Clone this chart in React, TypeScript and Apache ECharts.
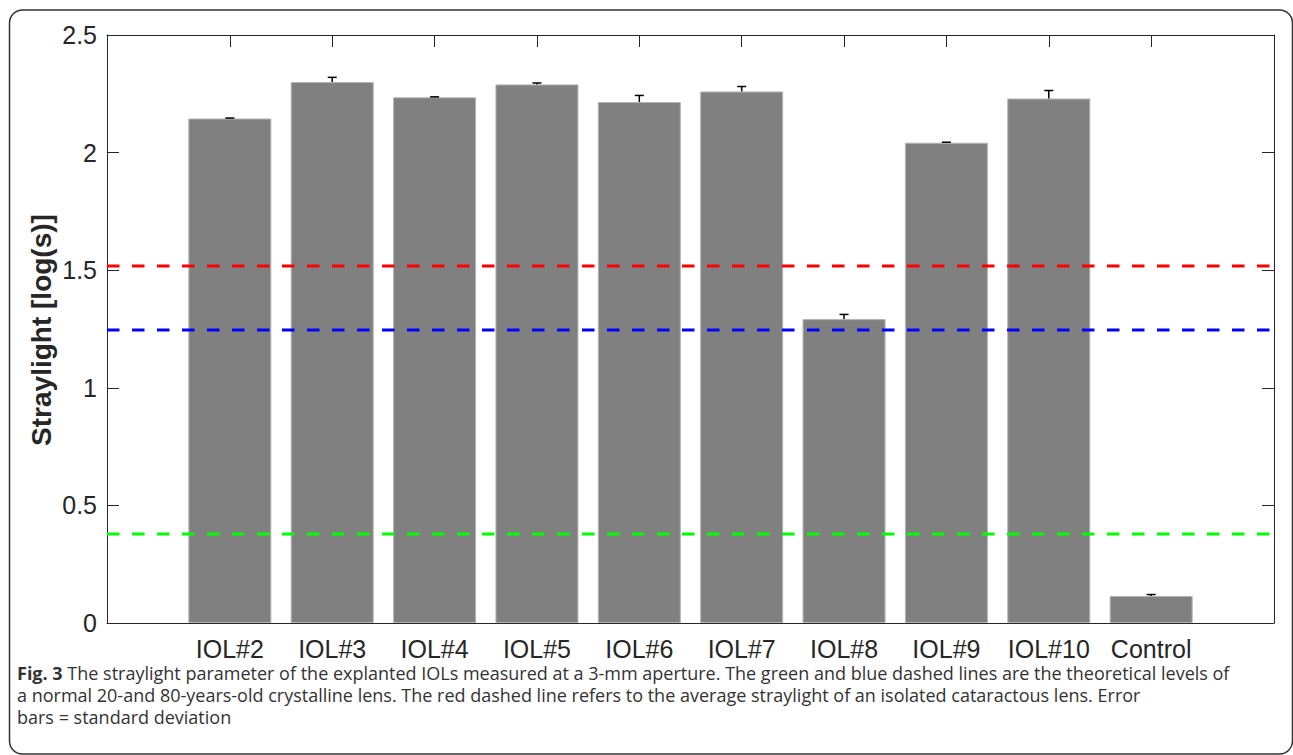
import React, { useEffect, useRef } from "react";
import * as echarts from "echarts";

const categories = ["IOL#2", "IOL#3", "IOL#4", "IOL#5", "IOL#6", "IOL#7", "IOL#8", "IOL#9", "IOL#10", "Control"];
const meanValues = [2.145, 2.3, 2.235, 2.29, 2.215, 2.26, 1.292, 2.042, 2.23, 0.115];
const stdValues = [0.002, 0.02, 0.002, 0.006, 0.028, 0.021, 0.02, 0.002, 0.034, 0.006];
const refLevels = [
  { name: "Cataractous lens", value: 1.518, color: "#ff0000" },
  { name: "80-years-old lens", value: 1.246, color: "#0000ff" },
  { name: "20-years-old lens", value: 0.378, color: "#00ff00" },
];
const yAxisTitle = "Straylight [log(s)]";
const captionLines = [
  "{b|Fig. 3} The straylight parameter of the explanted IOLs measured at a 3-mm aperture. The green and blue dashed lines are the theoretical levels of",
  "a normal 20-and 80-years-old crystalline lens. The red dashed line refers to the average straylight of an isolated cataractous lens. Error",
  "bars = standard deviation",
];

const X_MIN = -1.2;
const X_MAX = 10.2;

export default function App() {
  const ref = useRef<HTMLDivElement>(null);
  useEffect(() => {
    if (!ref.current) return;
    const chart = echarts.init(ref.current, null, { renderer: "svg" });
    const idx = categories.map((_, i) => i);
    const axisColor = "#262626";
    const font = "Liberation Sans, Arial, Helvetica, sans-serif";
    const capFont = "Open Sans, sans-serif";

    const xAxisBase = {
      type: "value" as const,
      min: X_MIN,
      max: X_MAX,
      splitLine: { show: false },
      axisLine: { show: true, onZero: false, lineStyle: { color: axisColor, width: 1 } },
      axisTick: { show: true, inside: true, length: 12, customValues: idx, lineStyle: { color: axisColor, width: 1 } },
    };
    const yAxisBase = {
      type: "value" as const,
      min: 0,
      max: 2.5,
      interval: 0.5,
      splitLine: { show: false },
      axisLine: { show: true, onZero: false, lineStyle: { color: axisColor, width: 1 } },
      axisTick: { show: true, inside: true, length: 12, lineStyle: { color: axisColor, width: 1 } },
    };

    const option: any = {
      animation: false,
      grid: { left: 107, right: 19, top: 35, bottom: 132, containLabel: false },
      xAxis: [
        {
          ...xAxisBase,
          position: "bottom",
          axisLabel: {
            show: true,
            customValues: idx,
            formatter: (v: number) => categories[Math.round(v)] ?? "",
            color: axisColor,
            fontSize: 25,
            lineHeight: 24,
            fontFamily: font,
            margin: 14,
          },
        },
        { ...xAxisBase, position: "top", axisLabel: { show: false } },
      ],
      yAxis: [
        {
          ...yAxisBase,
          position: "left",
          axisLabel: {
            show: true,
            color: axisColor,
            fontSize: 25,
            fontFamily: font,
            margin: 10,
            formatter: (v: number) => String(v),
          },
        },
        { ...yAxisBase, position: "right", axisLabel: { show: false } },
      ],
      series: [
        {
          type: "bar",
          xAxisIndex: 0,
          yAxisIndex: 0,
          barWidth: 83,
          data: meanValues.map((v, i) => [i, v]),
          itemStyle: { color: "#808080", borderColor: "#b3b3b3", borderWidth: 1 },
          z: 2,
        },
        {
          type: "custom",
          xAxisIndex: 0,
          yAxisIndex: 0,
          data: meanValues.map((v, i) => [i, v, stdValues[i]]),
          renderItem: (params: any, api: any) => {
            const x = api.value(0);
            const m = api.value(1);
            const s = api.value(2);
            const p0 = api.coord([x, m]);
            const p1 = api.coord([x, m + s]);
            const hw = 4.5;
            return {
              type: "group",
              children: [
                { type: "line", shape: { x1: p0[0], y1: p0[1], x2: p1[0], y2: p1[1] }, style: { stroke: "#000", lineWidth: 1.5 } },
                { type: "line", shape: { x1: p1[0] - hw, y1: p1[1], x2: p1[0] + hw, y2: p1[1] }, style: { stroke: "#000", lineWidth: 1.5 } },
              ],
            };
          },
          z: 3,
        },
        ...refLevels.map((r) => ({
          type: "line",
          name: r.name,
          xAxisIndex: 0,
          yAxisIndex: 0,
          data: [[X_MIN, r.value], [X_MAX, r.value]],
          symbol: "none",
          lineStyle: { color: r.color, width: 3, type: [12.5, 12.5] },
          z: 4,
        })),
      ],
      graphic: [
        {
          type: "rect",
          shape: { x: 9.5, y: 10, width: 1283, height: 744, r: 13 },
          style: { fill: "none", stroke: "#333", lineWidth: 1.5 },
          z: 0,
        },
        {
          type: "text",
          x: 41,
          y: 330,
          rotation: Math.PI / 2,
          style: {
            text: yAxisTitle,
            font: `bold 28px ${font}`,
            fill: axisColor,
            align: "center",
            verticalAlign: "middle",
          },
        },
        ...captionLines.map((t, i) => ({
          type: "text",
          x: 17,
          y: 673 + i * 22,
          style: {
            text: t,
            fontSize: 18,
            lineHeight: 20,
            fontFamily: capFont,
            fill: "#333333",
            align: "left",
            verticalAlign: "middle",
            rich: {
              b: { fontSize: 18, lineHeight: 20, fontFamily: capFont, fontWeight: "bold", fill: "#333333" },
            },
          },
        })),
      ],
    };
    chart.setOption(option);
    return () => chart.dispose();
  }, []);
  return (
    <div
      ref={ref}
      style={{ position: "fixed", left: 0, top: 0, width: 1293, height: 755, background: "#fff" }}
    />
  );
}
